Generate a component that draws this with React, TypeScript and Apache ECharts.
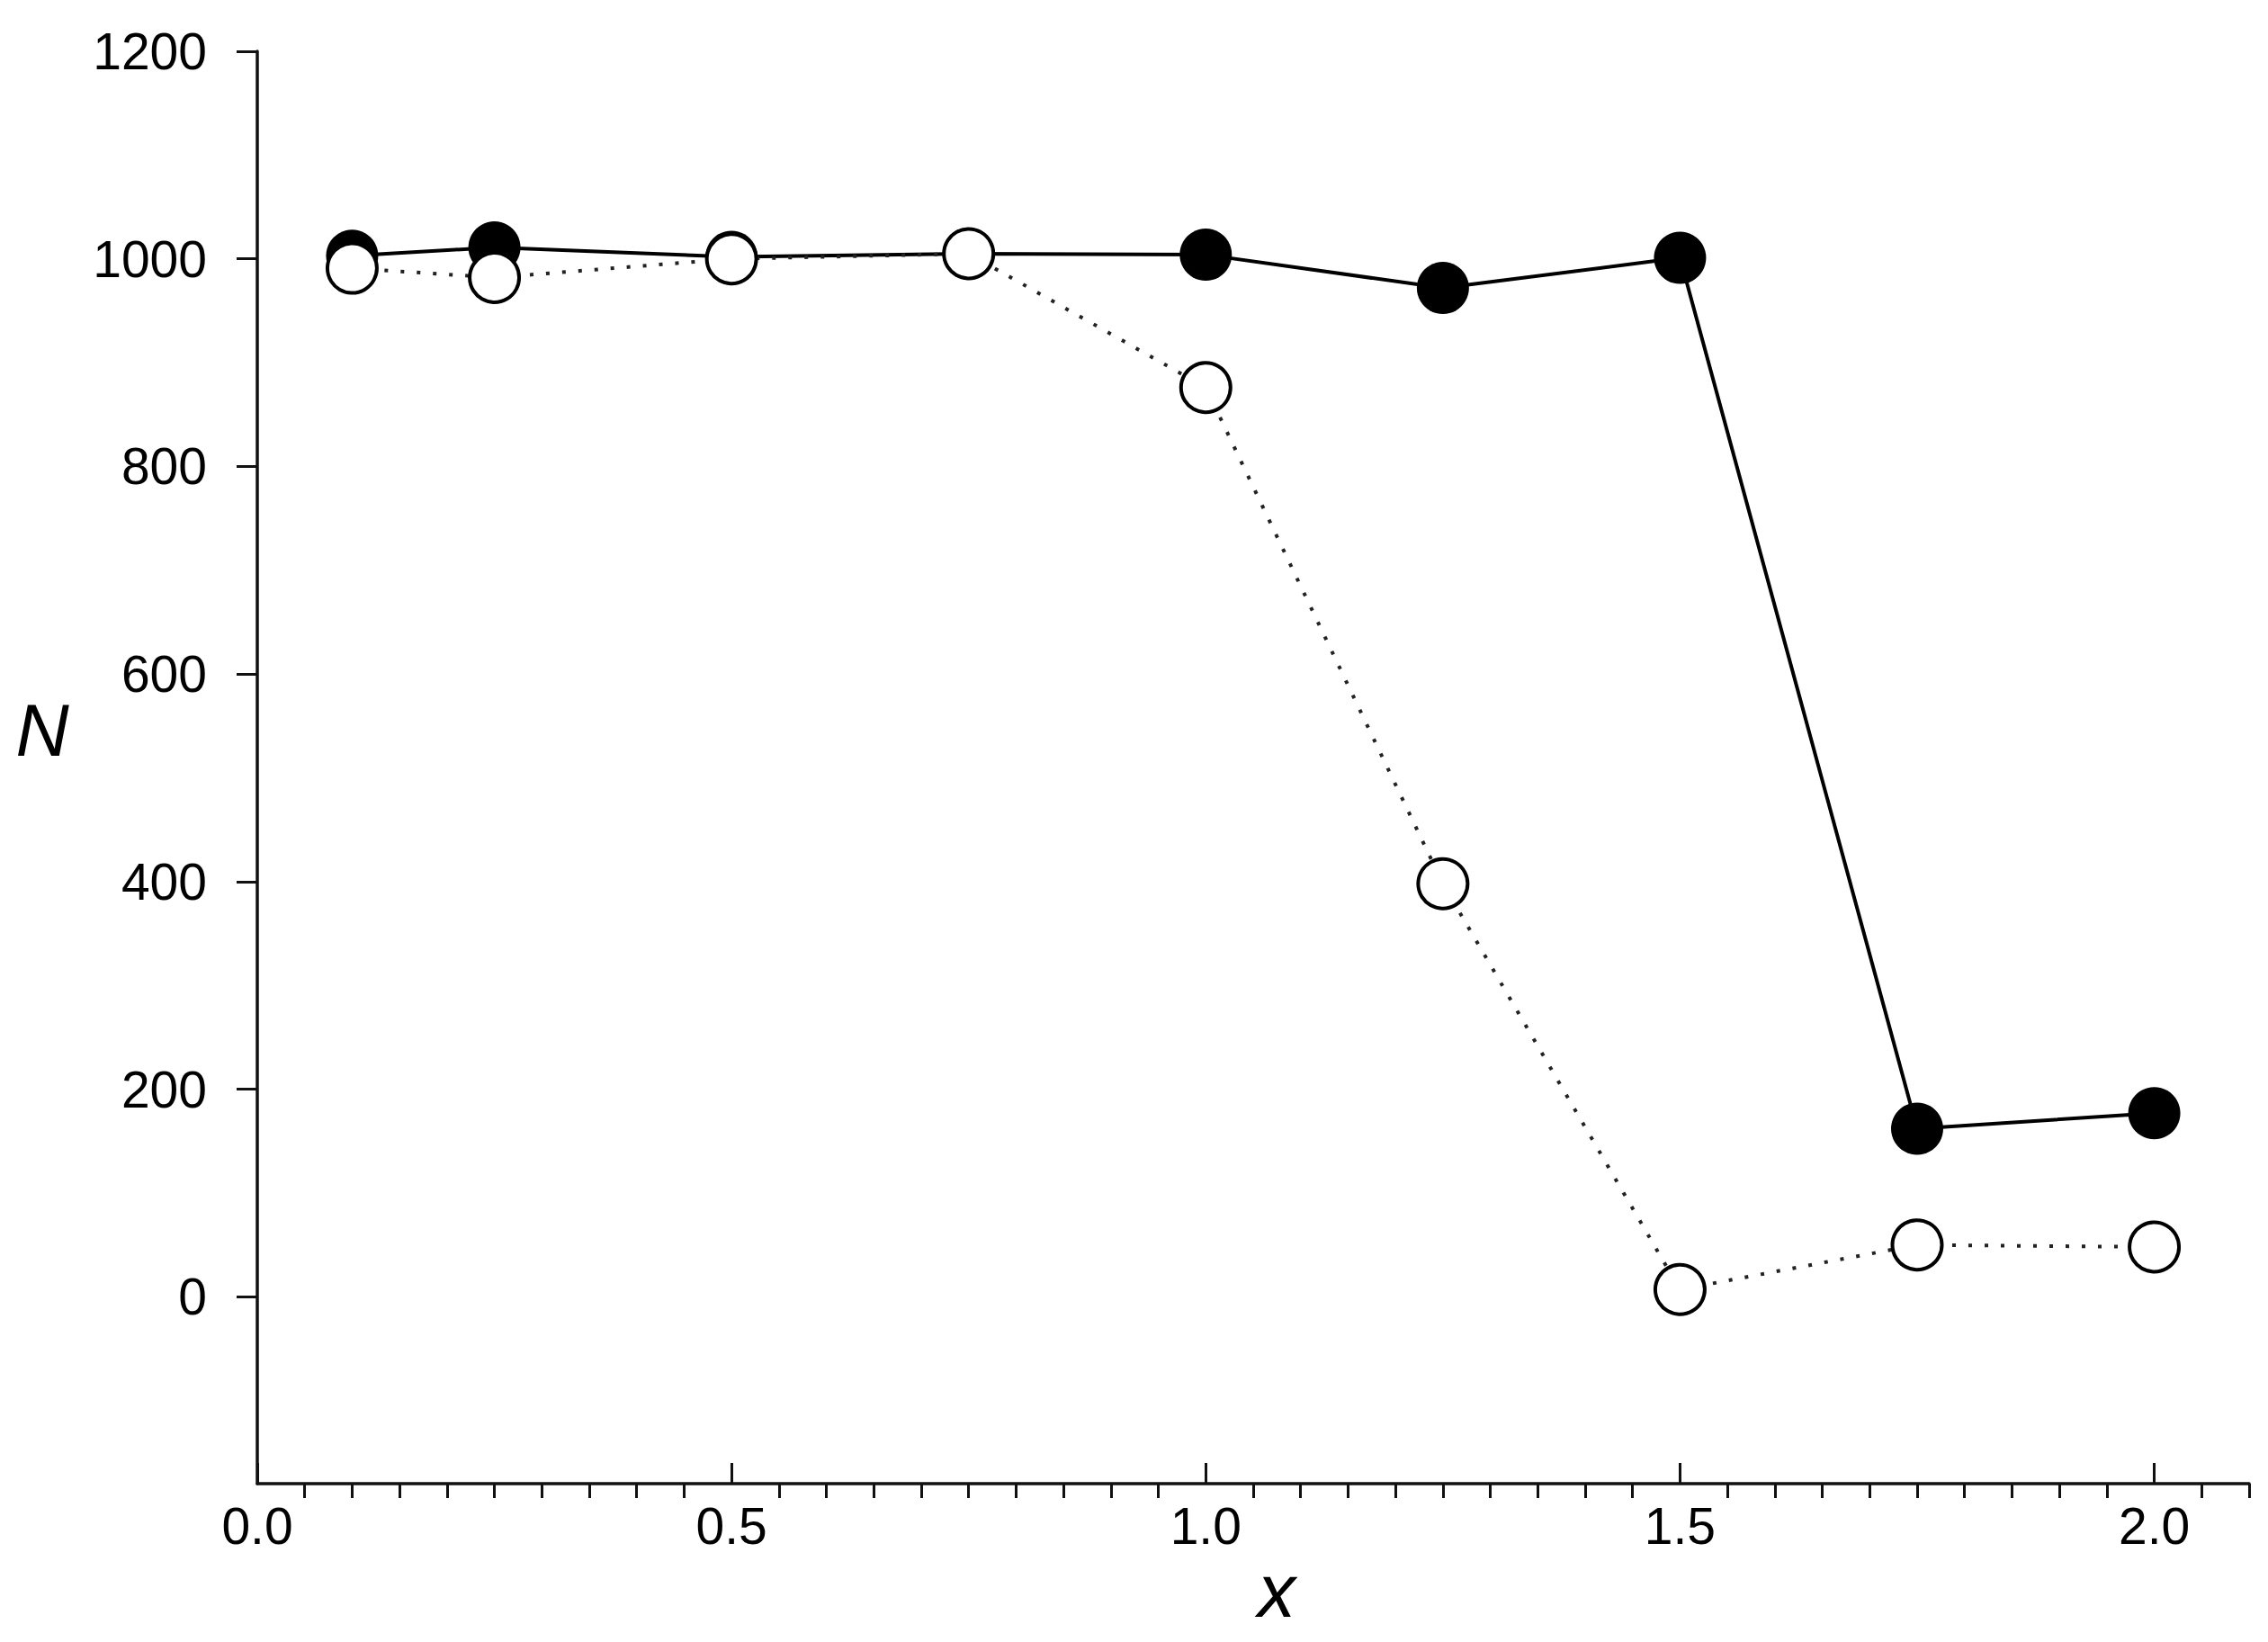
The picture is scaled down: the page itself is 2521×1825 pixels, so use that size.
import React, { useEffect, useRef } from "react";
import * as echarts from "echarts";

const xValues = [0.1, 0.25, 0.5, 0.75, 1.0, 1.25, 1.5, 1.75, 2.0];
const filledN = [1003, 1011, 1002, 1005, 1004, 972, 1001, 162, 177];
const openN = [991, 982, 1000, 1005, 876, 398, 7, 50, 48];
const yTickValues = [0, 200, 400, 600, 800, 1000, 1200];
const xLabelValues = [0, 0.5, 1.0, 1.5, 2.0];
const xMinorTicks = [
  0.05, 0.1, 0.15, 0.2, 0.25, 0.3, 0.35, 0.4, 0.45,
  0.55, 0.6, 0.65, 0.7, 0.75, 0.8, 0.85, 0.9, 0.95,
  1.05, 1.1, 1.15, 1.2, 1.25, 1.3, 1.35, 1.4, 1.45,
  1.55, 1.6, 1.65, 1.7, 1.75, 1.8, 1.85, 1.9, 1.95,
  2.05, 2.1,
];

const FONT = "'Liberation Sans', Arial, Helvetica, sans-serif";

export default function App() {
  const ref = useRef<HTMLDivElement>(null);
  useEffect(() => {
    if (!ref.current) return;
    const chart = echarts.init(ref.current, null, { renderer: "svg" });
    const pairs = (ys: number[]) => xValues.map((x, i) => [x, ys[i]]);
    chart.setOption({
      animation: false,
      backgroundColor: "#fff",
      grid: { left: 286, top: 57, right: 21, bottom: 176, containLabel: false },
      xAxis: [
        {
          type: "value",
          min: 0,
          max: 2.1,
          position: "bottom",
          axisLine: { show: true, onZero: false, lineStyle: { color: "#111", width: 3.5 } },
          axisTick: { show: true, inside: true, length: 23, customValues: xLabelValues, lineStyle: { color: "#111", width: 3 } },
          axisLabel: {
            show: true,
            customValues: xLabelValues,
            formatter: (v: number) => v.toFixed(1),
            color: "#000",
            fontSize: 57,
            fontFamily: FONT,
            margin: 18,
          },
          splitLine: { show: false },
        },
        {
          type: "value",
          min: 0,
          max: 2.1,
          position: "bottom",
          axisLine: { show: false, onZero: false },
          axisTick: { show: true, inside: false, length: 16, customValues: xMinorTicks, lineStyle: { color: "#111", width: 3 } },
          axisLabel: { show: false },
          splitLine: { show: false },
        },
      ],
      yAxis: {
        type: "value",
        min: -180,
        max: 1200,
        axisLine: { show: true, onZero: false, lineStyle: { color: "#111", width: 3.5 } },
        axisTick: { show: true, inside: false, length: 23, customValues: yTickValues, lineStyle: { color: "#111", width: 3 } },
        axisLabel: {
          show: true,
          customValues: yTickValues,
          formatter: (v: number) => String(v),
          color: "#000",
          fontSize: 57,
          fontFamily: FONT,
          margin: 56,
        },
        splitLine: { show: false },
      },
      graphic: [
        {
          type: "text",
          x: 47,
          y: 811,
          style: {
            text: "N",
            fontSize: 82,
            fontStyle: "italic",
            fontFamily: FONT,
            fill: "#000",
            align: "center",
            verticalAlign: "middle",
          },
        },
        {
          type: "text",
          x: 1419,
          y: 1768,
          style: {
            text: "x",
            fontSize: 84,
            fontStyle: "italic",
            fontFamily: FONT,
            fill: "#000",
            align: "center",
            verticalAlign: "middle",
          },
        },
      ],
      series: [
        {
          name: "filled",
          type: "line",
          xAxisIndex: 0,
          data: pairs(filledN),
          symbol: "circle",
          symbolSize: 58,
          showSymbol: true,
          clip: false,
          itemStyle: { color: "#000", borderColor: "#000", borderWidth: 0 },
          lineStyle: { color: "#000", width: 4, type: "solid" },
        },
        {
          name: "open",
          type: "line",
          xAxisIndex: 0,
          data: pairs(openN),
          symbol: "circle",
          symbolSize: 55,
          showSymbol: true,
          clip: false,
          itemStyle: { color: "#fff", borderColor: "#000", borderWidth: 4 },
          lineStyle: { color: "#222", width: 4, type: [4, 14] },
        },
      ],
    });
    return () => chart.dispose();
  }, []);
  return (
    <div
      ref={ref}
      style={{ position: "fixed", left: 0, top: 0, width: 2521, height: 1825, background: "#fff" }}
    />
  );
}
